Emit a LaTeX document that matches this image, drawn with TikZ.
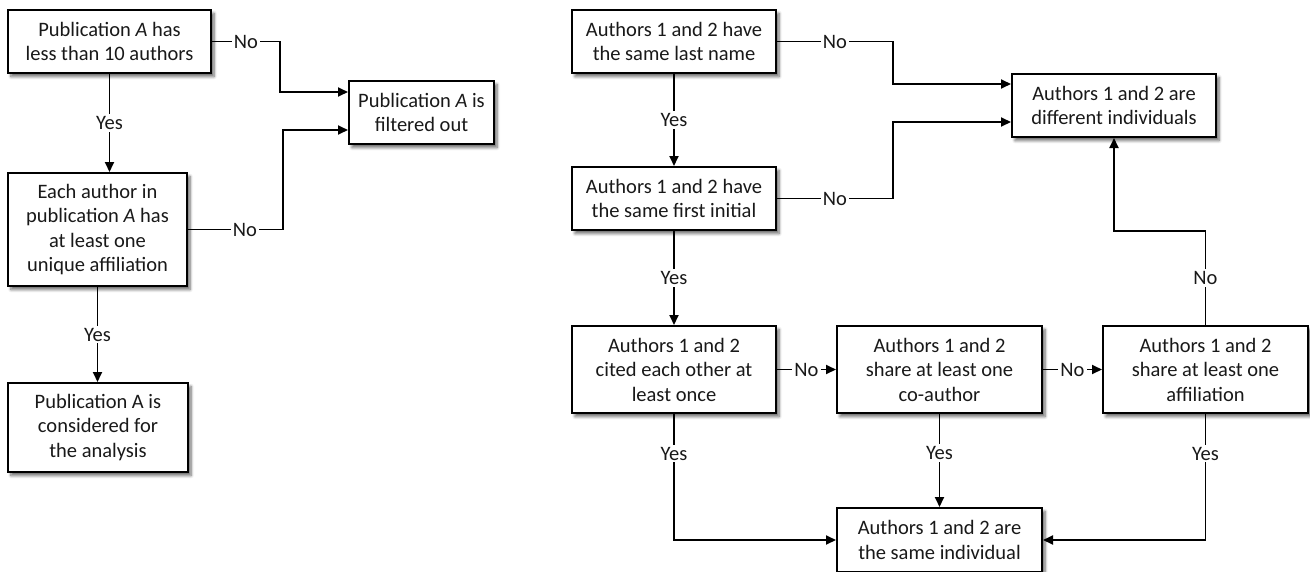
\documentclass[tikz,border=0pt]{standalone}
\usepackage{fontspec}
\setmainfont{Carlito}
\usetikzlibrary{arrows.meta,shadows.blur,calc}
\begin{document}
\begin{tikzpicture}[x=1pt,y=-1pt,
  every node/.style={font=\fontsize{20.5}{24.5}\selectfont, text=black!90},
  box/.style={draw=black, line width=2pt, fill=white, align=center, inner sep=0pt,
    minimum width=#1, blur shadow={shadow xshift=3pt, shadow yshift=-3.5pt, shadow blur steps=6, shadow blur radius=3pt, shadow opacity=60}},
  box/.default=204pt,
  conn/.style={line width=1.8pt},
  arr/.style={conn, -{Triangle[length=10pt,width=9pt]}},
  lbl/.style={fill=white, inner sep=2pt}]
\useasboundingbox (0,0) rectangle (1310,571);
\clip (0,0) rectangle (1310,571);
% left flowchart
\node[box=203pt, minimum height=63pt] (L1) at (109.5,41.5) {Publication \textit{A} has\\less than 10 authors};
\node[box=179pt, minimum height=113pt] (L2) at (97.5,229.5) {Each author in\\publication \textit{A} has\\at least one\\unique affiliation};
\node[box=180pt, minimum height=89pt] (L3) at (98,427.5) {Publication A is\\considered for\\the analysis};
\node[box=145pt, minimum height=63pt] (F) at (421.5,112.5) {Publication \textit{A} is\\filtered out};
\coordinate (c1) at (280,41.5);
\coordinate (c2) at (283,229.5);
\draw[arr] (L1.east) -- node[lbl]{No} (c1) |- ($(F.west)+(0,-20.5)$);
\draw[arr] (L2.east) -- node[lbl,pos=0.6]{No} (c2) |- ($(F.west)+(0,17.5)$);
\draw[arr] (L1.south) -- node[lbl]{Yes} (L1.south |- L2.north);
\draw[arr] (L2.south) -- node[lbl]{Yes} (L2.south |- L3.north);
% right flowchart
\node[box, minimum height=63pt] (R1) at (674,41.5) {Authors 1 and 2 have\\the same last name};
\node[box, minimum height=63pt] (R2) at (674,198.5) {Authors 1 and 2 have\\the same first initial};
\node[box, minimum height=63pt] (D) at (1114,105.5) {Authors 1 and 2 are\\different individuals};
\node[box, minimum height=87pt] (R3) at (674,369.5) {Authors 1 and 2\\cited each other at\\least once};
\node[box=205pt, minimum height=87pt] (R4) at (939.5,369.5) {Authors 1 and 2\\share at least one\\co-author};
\node[box=205pt, minimum height=87pt] (R5) at (1205.5,369.5) {Authors 1 and 2\\share at least one\\affiliation};
\node[box=205pt, minimum height=64pt] (S) at (939.5,540) {Authors 1 and 2 are\\the same individual};
\coordinate (c3) at (893,41.5);
\coordinate (c4) at (893,198.5);
\coordinate (c5) at (1205.5,231);
\coordinate (c6) at (674,540);
\coordinate (c7) at (1205.5,540);
\draw[arr] (R1.east) -- node[lbl]{No} (c3) |- ($(D.west)+(0,-21.5)$);
\draw[arr] (R2.east) -- node[lbl]{No} (c4) |- ($(D.west)+(0,16.5)$);
\draw[arr] (R1.south) -- node[lbl]{Yes} (R2.north);
\draw[arr] (R2.south) -- node[lbl]{Yes} (R3.north);
\draw[arr] (R3.east) -- node[lbl]{No} (R4.west);
\draw[arr] (R4.east) -- node[lbl]{No} (R5.west);
\draw[arr] (R5.north) -- node[lbl]{No} (c5) -| (D.south);
\draw[arr] (R3.south) -- node[lbl,pos=0.315]{Yes} (c6) -- (S.west);
\draw[arr] (R4.south) -- node[lbl,pos=0.42]{Yes} (S.north);
\draw[arr] (R5.south) -- node[lbl,pos=0.315]{Yes} (c7) -- (S.east);
\end{tikzpicture}
\end{document}
